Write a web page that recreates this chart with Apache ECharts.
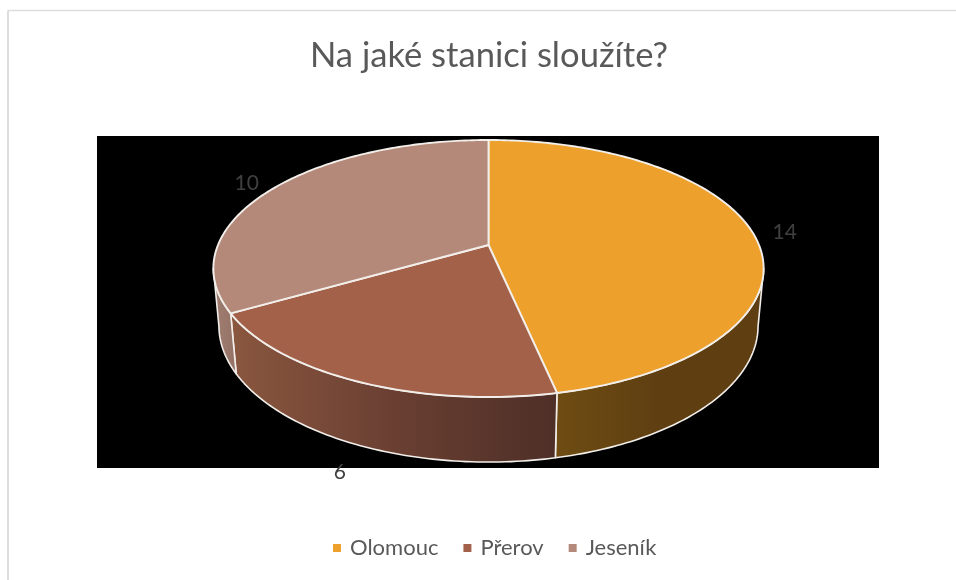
<!DOCTYPE html>
<html>
<head>
<meta charset="utf-8">
<style>html,body{margin:0;padding:0;background:#fff}#chart{width:956px;height:580px}</style>
<script src="https://cdn.jsdelivr.net/npm/echarts@6/dist/echarts.min.js"></script>
</head>
<body>
<div id="chart"></div>
<script>
// Station counts
const categories = ['Olomouc', 'Přerov', 'Jeseník'];
const counts = [14, 6, 10];
const topColors = ['#EDA02B', '#A3614A', '#B4897A'];
const wallStops = [
  ['#6E4C12', '#5F3F12', '#5F3F12'],
  ['#8A573F', '#6A3F32', '#4E2F27'],
  ['#A07E72', '#9A786C', '#947266']
];
const titleText = 'Na jaké stanici sloužíte?';
const edgeColor = '#F2EEEA';

// Perspective projection of a tilted disc onto the page
const view = { cx: 488.5, cy: 245, a: 270.5, b: 124.2, k: 0.1829, drop: 57.5, recede: 0.02 };
function project(theta, r, z) {
  const u = r * Math.sin(theta);
  const v = r * Math.cos(theta);
  const w = 1 + view.k * v + view.recede * z;
  return [view.cx + view.a * u / w, view.cy + (view.drop * z - view.b * v) / w];
}
const DEG = Math.PI / 180;
const total = counts.reduce((s, c) => s + c, 0);
// The rim faces the viewer between these two angles
const rimFrom = Math.acos(-view.k);
const rimTo = 2 * Math.PI - rimFrom;

function arc(from, to, z) {
  const pts = [];
  const n = Math.max(2, Math.ceil((to - from) / DEG));
  for (let i = 0; i <= n; i++) pts.push(project(from + (to - from) * i / n, 1, z));
  return pts;
}

function renderSlice(params) {
  const i = params.seriesIndex;
  const before = counts.slice(0, i).reduce((s, c) => s + c, 0);
  const start = before / total * 2 * Math.PI;
  const end = (before + counts[i]) / total * 2 * Math.PI;
  const children = [];

  // Side wall: the part of the slice's rim turned towards the viewer
  const from = Math.max(start, rimFrom);
  const to = Math.min(end, rimTo);
  if (to > from) {
    const upper = arc(from, to, 0);
    const lower = arc(from, to, 1).reverse();
    const xs = upper.concat(lower).map(p => p[0]);
    const stops = wallStops[i];
    children.push({
      type: 'polygon',
      shape: { points: upper.concat(lower) },
      style: {
        fill: new echarts.graphic.LinearGradient(Math.min(...xs), 0, Math.max(...xs), 0, [
          { offset: 0, color: stops[0] },
          { offset: 0.5, color: stops[1] },
          { offset: 1, color: stops[2] }
        ], true),
        stroke: edgeColor, lineWidth: 1.6, lineJoin: 'round'
      }
    });
  }

  // Top face
  children.push({
    type: 'polygon',
    shape: { points: [project(0, 0, 0)].concat(arc(start, end, 0)) },
    style: { fill: topColors[i], stroke: edgeColor, lineWidth: 1.9, lineJoin: 'round' },
    z2: 5
  });

  // Value label just outside the slice; front slices hang below the rim
  const mid = (start + end) / 2;
  const front = Math.cos(mid) < -0.5;
  const backLeft = !front && Math.sin(mid) < 0;
  const at = project(mid, backLeft ? 1.14 : 1.125, front ? 1 : 0);
  children.push({
    type: 'text',
    style: {
      text: String(counts[i]), x: at[0], y: at[1] + (front ? 5 : 2),
      align: 'center', verticalAlign: 'middle',
      fill: '#404040', font: '21px Lato'
    },
    z2: 10
  });
  return { type: 'group', children };
}

const chart = echarts.init(document.getElementById('chart'), null, { renderer: 'canvas' });
chart.setOption({
  animation: false,
  backgroundColor: '#ffffff',
  title: {
    text: titleText, left: 484, top: 33, textAlign: 'center',
    textStyle: { color: '#595959', fontFamily: 'Lato', fontSize: 34.6, fontWeight: 'normal' }
  },
  legend: {
    data: categories, left: 328, top: 532, icon: 'path://M0 0H8V8H0Z', itemSymbolKeepAspect: true,
    itemWidth: 16, itemHeight: 8, itemGap: 25,
    textStyle: { color: '#595959', fontFamily: 'Lato', fontSize: 22 }
  },
  graphic: [
    { type: 'line', z: -3, shape: { x1: 8, y1: 10.5, x2: 956, y2: 10.5 }, style: { stroke: '#DDDDDD', lineWidth: 1.5 } },
    { type: 'line', z: -3, shape: { x1: 8, y1: 10.5, x2: 8, y2: 580 }, style: { stroke: '#DDDDDD', lineWidth: 2 } },
    { type: 'rect', z: -2, shape: { x: 97, y: 136, width: 782, height: 332 }, style: { fill: '#000000' } }
  ],
  series: categories.map((name, i) => ({
    type: 'custom',
    name,
    coordinateSystem: 'none',
    itemStyle: { color: topColors[i] },
    renderItem: renderSlice,
    data: [counts[i]],
    silent: true
  }))
});
</script>
</body>
</html>
